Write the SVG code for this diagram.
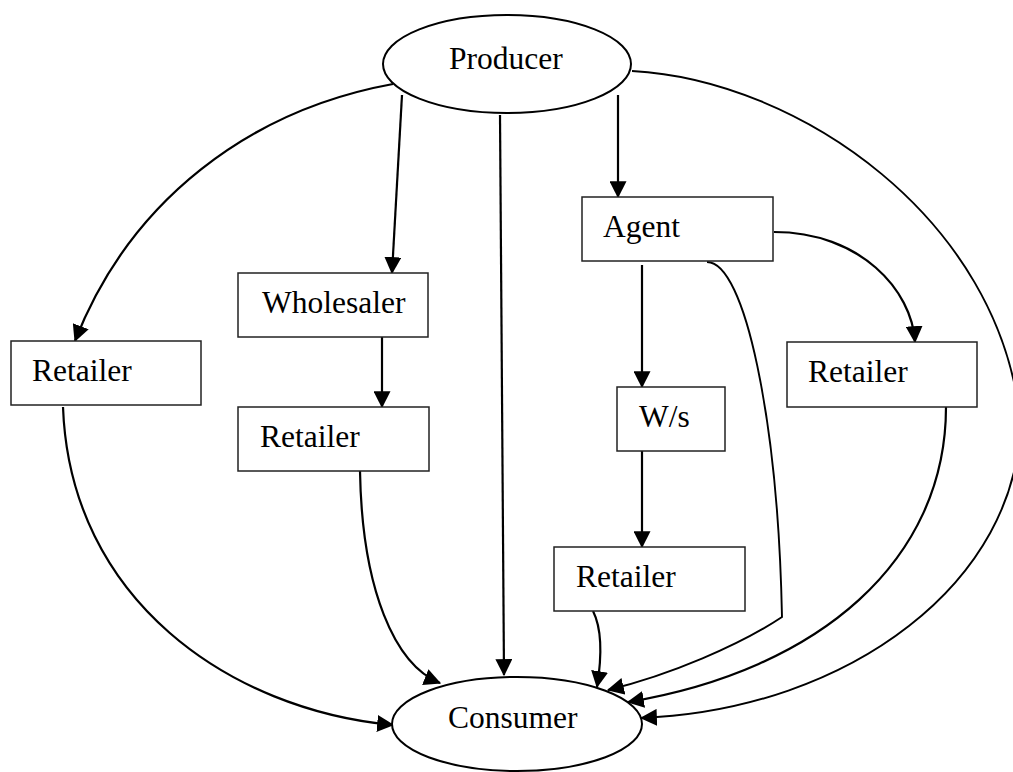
<svg xmlns="http://www.w3.org/2000/svg" width="1013" height="772" viewBox="0 0 1013 772">
<style>
.box{fill:#fff;stroke:#222;stroke-width:1.5}
.ell{fill:#fff;stroke:#000;stroke-width:2}
.lbl{font-family:"Liberation Serif","Times New Roman",serif;font-size:31.5px;fill:#000}
.c{fill:none;stroke:#000;stroke-width:2.2}
.t{fill:none;stroke:#000;stroke-width:1.9}
</style>
<defs>
<marker id="ah" markerUnits="userSpaceOnUse" markerWidth="17" markerHeight="17" viewBox="0 0 15 15" refX="14" refY="7.5" orient="auto">
<path d="M0,0 L15,7.5 L0,15 z" fill="#000"/>
</marker>
</defs>
<rect width="1013" height="772" fill="#fff"/>
<g id="connectors">
<path class="c" d="M393,84 C250,110 130,200 75,341" marker-end="url(#ah)"/>
<path class="c" d="M402,95 L392,273" marker-end="url(#ah)"/>
<path class="c" d="M500,115 L504,675" marker-end="url(#ah)"/>
<path class="c" d="M618,95 L618,197" marker-end="url(#ah)"/>
<path class="t" d="M632,71 C800,80 1000,220 1020,420 C1020,580 850,710 641,718" marker-end="url(#ah)"/>
<path class="c" d="M382,337 L382,407" marker-end="url(#ah)"/>
<path class="c" d="M774,232 C860,232 912,290 915,342" marker-end="url(#ah)"/>
<path class="c" d="M642,265 L642,387" marker-end="url(#ah)"/>
<path class="c" d="M642,451 L642,547" marker-end="url(#ah)"/>
<path class="t" d="M707,262 C745,262 778,420 782,617 C740,645 670,675 608,690" marker-end="url(#ah)"/>
<path class="c" d="M63,407 C70,600 230,710 393,725" marker-end="url(#ah)"/>
<path class="c" d="M360,471 C362,590 395,665 440,683" marker-end="url(#ah)"/>
<path class="c" d="M593,611 C600,625 603,650 597,687" marker-end="url(#ah)"/>
<path class="c" d="M946,407 C946,560 820,670 628,702" marker-end="url(#ah)"/>
</g>
<g id="producer">
<ellipse class="ell" cx="507" cy="64" rx="124" ry="49"/>
<text class="lbl" x="449" y="69">Producer</text>
</g>
<g id="retailer-left">
<rect class="box" x="11" y="341" width="190" height="64"/>
<text class="lbl" x="32" y="381">Retailer</text>
</g>
<g id="wholesaler">
<rect class="box" x="238" y="273" width="190" height="64"/>
<text class="lbl" x="262" y="313">Wholesaler</text>
</g>
<g id="retailer-wholesaler">
<rect class="box" x="238" y="407" width="191" height="64"/>
<text class="lbl" x="260" y="447">Retailer</text>
</g>
<g id="agent">
<rect class="box" x="582" y="197" width="191" height="64"/>
<text class="lbl" x="603" y="237">Agent</text>
</g>
<g id="ws">
<rect class="box" x="617" y="387" width="108" height="64"/>
<text class="lbl" x="639" y="427">W/s</text>
</g>
<g id="retailer-ws">
<rect class="box" x="554" y="547" width="191" height="64"/>
<text class="lbl" x="576" y="587">Retailer</text>
</g>
<g id="retailer-right">
<rect class="box" x="787" y="342" width="190" height="65"/>
<text class="lbl" x="808" y="382">Retailer</text>
</g>
<g id="consumer">
<ellipse class="ell" cx="517" cy="724" rx="125" ry="47"/>
<text class="lbl" x="448" y="728">Consumer</text>
</g>
</svg>
